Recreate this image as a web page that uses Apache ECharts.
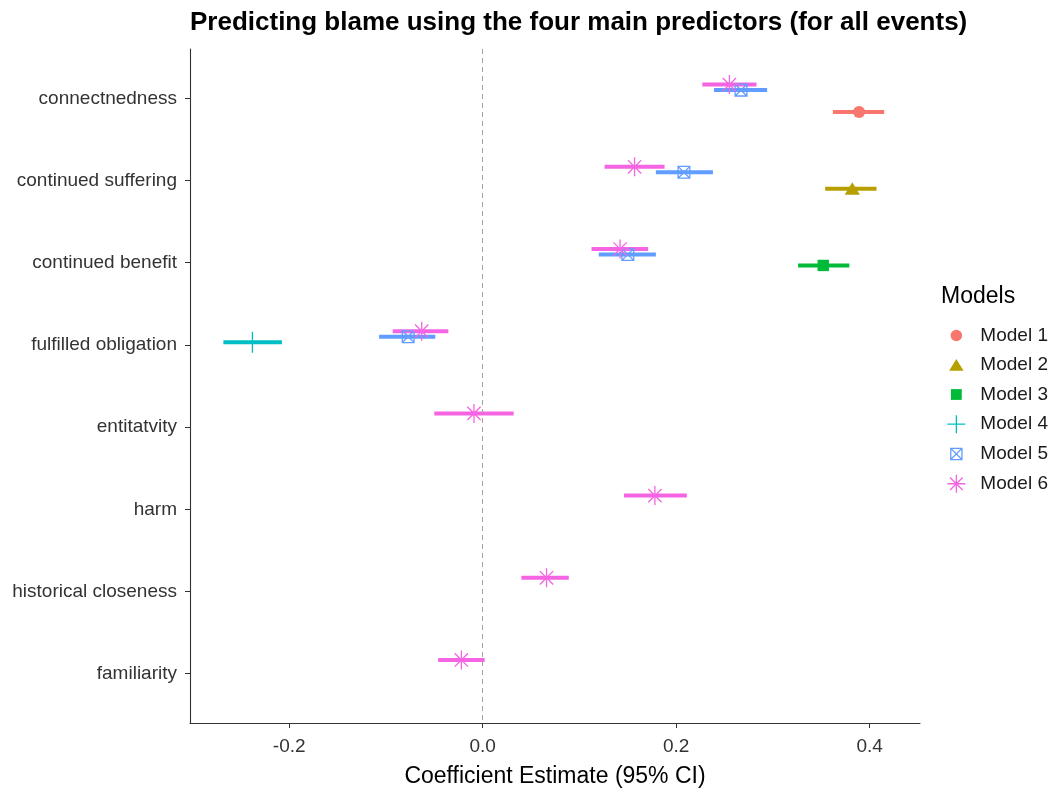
<!DOCTYPE html>
<html>
<head>
<meta charset="utf-8">
<script src="https://cdn.jsdelivr.net/npm/echarts@6/dist/echarts.min.js"></script>
<style>html,body{margin:0;padding:0;background:#fff}#c{width:1052px;height:790px}</style>
</head>
<body>
<div id="c"></div>
<script>
// ---- data (categories top to bottom) ----
const categories = ['connectnedness','continued suffering','continued benefit','fulfilled obligation','entitatvity','harm','historical closeness','familiarity'];
const modelNames = ['Model 1','Model 2','Model 3','Model 4','Model 5','Model 6'];
const m1Est = [0.389, null, null, null, null, null, null, null];
const m1Lo  = [0.362, null, null, null, null, null, null, null];
const m1Hi  = [0.415, null, null, null, null, null, null, null];
const m2Est = [null, 0.382, null, null, null, null, null, null];
const m2Lo  = [null, 0.354, null, null, null, null, null, null];
const m2Hi  = [null, 0.407, null, null, null, null, null, null];
const m3Est = [null, null, 0.352, null, null, null, null, null];
const m3Lo  = [null, null, 0.326, null, null, null, null, null];
const m3Hi  = [null, null, 0.379, null, null, null, null, null];
const m4Est = [null, null, null, -0.238, null, null, null, null];
const m4Lo  = [null, null, null, -0.268, null, null, null, null];
const m4Hi  = [null, null, null, -0.2075, null, null, null, null];
const m5Est = [0.267, 0.208, 0.150, -0.077, null, null, null, null];
const m5Lo  = [0.239, 0.179, 0.120, -0.107, null, null, null, null];
const m5Hi  = [0.294, 0.238, 0.179, -0.049, null, null, null, null];
const m6Est = [0.255, 0.157, 0.142, -0.063, -0.009, 0.178, 0.066, -0.022];
const m6Lo  = [0.227, 0.126, 0.1125, -0.093, -0.050, 0.146, 0.040, -0.046];
const m6Hi  = [0.283, 0.188, 0.171, -0.0355, 0.032, 0.211, 0.089, 0.002];
const xTicks = [-0.2, 0.0, 0.2, 0.4];

const ests = [m1Est, m2Est, m3Est, m4Est, m5Est, m6Est];
const los = [m1Lo, m2Lo, m3Lo, m4Lo, m5Lo, m6Lo];
const his = [m1Hi, m2Hi, m3Hi, m4Hi, m5Hi, m6Hi];

// ---- styles ----
const colors = ['#F8766D','#B79F00','#00BA38','#00BFC4','#619CFF','#F564E3'];
const PAD = 'M-1,-1M1,1';
const symbols = [
  'path://' + PAD + 'M0.64,0A0.64,0.64,0,1,1,-0.64,0A0.64,0.64,0,1,1,0.64,0Z',
  'path://' + PAD + 'M0,-0.68L0.8,0.64L-0.8,0.64Z',
  'path://' + PAD + 'M-0.6,-0.6L0.6,-0.6L0.6,0.6L-0.6,0.6Z',
  'path://' + PAD + 'M0,-1L0,1M-1,0L1,0',
  'path://' + PAD + 'M-0.62,-0.62L0.62,-0.62L0.62,0.62L-0.62,0.62ZM-0.62,-0.62L0.62,0.62M0.62,-0.62L-0.62,0.62',
  'path://' + PAD + 'M0,-1L0,1M-1,0L1,0M-0.7,-0.7L0.7,0.7M0.7,-0.7L-0.7,0.7'
];
const filled = [true, true, true, false, false, false];
const dodgeW = 0.4;
const font = 'Liberation Sans, Arial, sans-serif';

function itemStyleFor(k) {
  return filled[k]
    ? {color: colors[k], borderWidth: 0, opacity: 1}
    : {color: 'transparent', borderColor: colors[k], borderWidth: 1.3, opacity: 1};
}

const series = [];
// dashed zero line
series.push({
  type: 'line', data: [], z: 1, silent: true,
  markLine: {silent: true, symbol: ['none','none'], label: {show: false},
    lineStyle: {type: [5,4], color: '#a0a0a0', width: 1}, data: [{xAxis: 0}], animation: false}
});
for (let k = 0; k < 6; k++) {
  const off = (2.5 - k) * dodgeW / 6;
  const ciData = [], ptData = [];
  for (let i = 0; i < categories.length; i++) {
    if (ests[k][i] === null) continue;
    const y = i + 1 + off;
    ciData.push([los[k][i], his[k][i], y]);
    ptData.push([ests[k][i], y]);
  }
  const col = colors[k];
  series.push({
    name: 'ci' + k, type: 'custom', z: 2, silent: true,
    encode: {x: [0,1], y: 2},
    data: ciData,
    renderItem: function (params, api) {
      const y = api.value(2);
      const p1 = api.coord([api.value(0), y]);
      const p2 = api.coord([api.value(1), y]);
      return {type: 'line', shape: {x1: p1[0], y1: p1[1], x2: p2[0], y2: p2[1]},
        style: {stroke: col, lineWidth: 4}};
    }
  });
  series.push({
    name: modelNames[k], type: 'scatter', z: 3, silent: true,
    symbol: symbols[k], symbolSize: k === 3 ? 21 : 19,
    itemStyle: itemStyleFor(k),
    data: ptData
  });
}

const chart = echarts.init(document.getElementById('c'), null, {renderer: 'canvas'});
chart.setOption({
  animation: false,
  backgroundColor: '#fff',
  textStyle: {fontFamily: font},
  title: [
    {text: 'Predicting blame using the four main predictors (for all events)', left: 190, top: 10, padding: 0,
      textStyle: {fontFamily: font, fontSize: 26, fontWeight: 'bold', color: '#000'}},
    {text: 'Models', left: 941, top: 285, padding: 0,
      textStyle: {fontFamily: font, fontSize: 23, fontWeight: 'normal', color: '#000'}}
  ],
  legend: {
    orient: 'vertical', left: 946.7, top: 326, padding: 0,
    itemWidth: 38, itemHeight: 18, itemGap: 10.5, symbolKeepAspect: true,
    textStyle: {fontFamily: font, fontSize: 19, color: '#1a1a1a'},
    selectedMode: false,
    data: modelNames.map((n, k) => ({name: n, icon: symbols[k],
      itemStyle: filled[k] ? {color: colors[k], borderWidth: 0}
                           : {color: 'transparent', borderColor: colors[k], borderWidth: 1.3}}))
  },
  grid: {left: 190, right: 132, top: 49, bottom: 67, containLabel: false, outerBoundsMode: 'none'},
  xAxis: {
    type: 'value', min: -0.3025, max: 0.452,
    name: 'Coefficient Estimate (95% CI)', nameLocation: 'middle', nameGap: 42,
    nameTextStyle: {fontFamily: font, fontSize: 23, color: '#000'},
    axisLine: {show: true, onZero: false, lineStyle: {color: '#333', width: 1.1}},
    axisTick: {show: true, length: 5, lineStyle: {color: '#333'}, customValues: xTicks},
    axisLabel: {fontFamily: font, fontSize: 19, color: '#333', margin: 14, customValues: xTicks,
      formatter: v => v.toFixed(1)},
    splitLine: {show: false}
  },
  yAxis: {
    type: 'value', min: 0.4, max: 8.6, inverse: true,
    axisLine: {show: true, onZero: false, lineStyle: {color: '#333', width: 1.1}},
    axisTick: {show: true, length: 5, lineStyle: {color: '#333'}, customValues: categories.map((c, i) => i + 1)},
    axisLabel: {fontFamily: font, fontSize: 19, color: '#333', margin: 13,
      customValues: categories.map((c, i) => i + 1),
      formatter: v => categories[Math.round(v) - 1] || ''},
    splitLine: {show: false}
  },
  series: series
});
</script>
</body>
</html>
